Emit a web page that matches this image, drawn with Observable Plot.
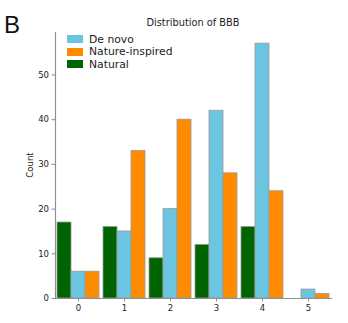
<!DOCTYPE html>
<html><head><meta charset="utf-8">
<script src="https://cdn.jsdelivr.net/npm/d3@7"></script>
<script src="https://cdn.jsdelivr.net/npm/@observablehq/plot@0.6"></script>
<style>
html,body{margin:0;padding:0;background:#fff;overflow:hidden;}
#wrap{position:relative;width:348px;height:323px;font-family:"DejaVu Sans",sans-serif;}
#panel{position:absolute;left:4px;top:13px;font-family:"Liberation Sans",Arial,sans-serif;font-size:24px;color:#111;line-height:1;}
#title{position:absolute;left:55px;width:276px;top:17px;text-align:center;font-size:9.8px;color:#222;}
#ylab{position:absolute;left:30px;top:165px;transform:translate(-50%,-50%) rotate(-90deg);font-size:8.5px;color:#222;white-space:nowrap;}
#legend{position:absolute;left:67px;top:33px;font-size:10.8px;color:#222;}
.row{display:flex;align-items:center;height:12.5px;}
.sw{width:16px;height:8px;margin-right:6px;}
</style></head>
<body><div id="wrap"><div id="chart"></div><div id="panel">B</div><div id="title"></div><div id="ylab"></div><div id="legend"></div></div>
<script>
const categories = [0, 1, 2, 3, 4, 5];
const seriesNames = ["Natural", "De novo", "Nature-inspired"];
const legendOrder = ["De novo", "Nature-inspired", "Natural"];
const natural = [17, 16, 9, 12, 16, 0];
const deNovo = [6, 15, 20, 42, 57, 2];
const natureInspired = [6, 33, 40, 28, 24, 1];
const colors = ["#006400", "#6cc5e0", "#ff8c00"];
const yTicks = [0, 10, 20, 30, 40, 50];
const titleText = "Distribution of BBB";
const yLabel = "Count";

const seriesValues = [natural, deNovo, natureInspired];
const data = [];
seriesNames.forEach((s, i) => categories.forEach((c, j) => data.push({cat: c, series: s, value: seriesValues[i][j]})));

const axisColor = "#8f8f8f";
const plot = Plot.plot({
  width: 348, height: 323,
  marginLeft: 55, marginRight: 17, marginTop: 32, marginBottom: 25,
  style: {fontFamily: "DejaVu Sans, sans-serif", fontSize: "8.5px", color: "#222", background: "#fff"},
  fx: {domain: categories, padding: 0, label: null},
  x: {domain: seriesNames, paddingInner: 0, paddingOuter: 0.1, axis: null},
  y: {domain: [0, 59.5]},
  color: {domain: seriesNames, range: colors},
  marks: [
    Plot.barY(data, {fx: "cat", x: "series", y: "value", fill: "series", stroke: "#9a9a9a", strokeWidth: 0.8}),
    Plot.frame({anchor: "left", facetAnchor: "left", stroke: axisColor, strokeWidth: 1.2}),
    Plot.frame({anchor: "bottom", stroke: axisColor, strokeWidth: 1.2}),
    Plot.axisY({ticks: yTicks, tickSize: 3.5, tickPadding: 3, label: null, stroke: axisColor}),
    Plot.axisFx({anchor: "bottom", tickSize: 3.5, tickPadding: 3, label: null, stroke: axisColor})
  ]
});
document.getElementById("chart").appendChild(plot);
document.getElementById("title").textContent = titleText;
document.getElementById("ylab").textContent = yLabel;
const leg = document.getElementById("legend");
legendOrder.forEach(s => {
  const r = document.createElement("div"); r.className = "row";
  const sw = document.createElement("div"); sw.className = "sw"; sw.style.background = colors[seriesNames.indexOf(s)];
  const t = document.createElement("span"); t.textContent = s;
  r.appendChild(sw); r.appendChild(t); leg.appendChild(r);
});
</script></body></html>
